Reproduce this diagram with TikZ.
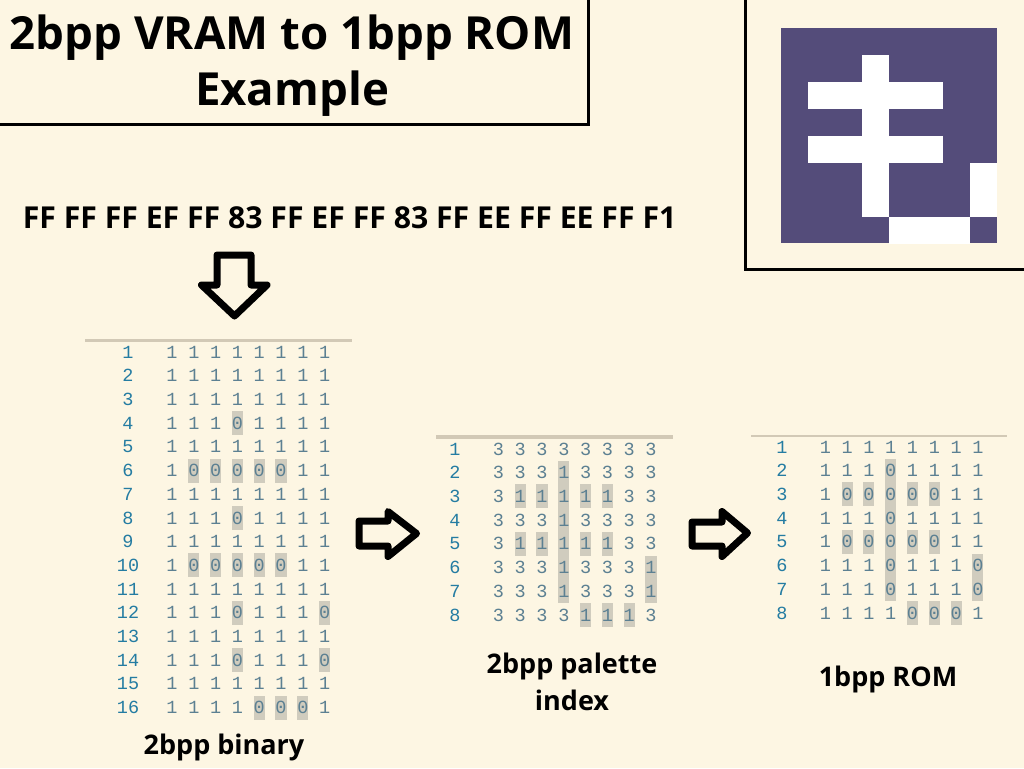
\documentclass[tikz,border=0pt]{standalone}
\usepackage{fontspec}
\setmainfont{Open Sans}
\newfontfamily\bitfont{Liberation Mono}
\definecolor{cpaper}{RGB}{253,246,227}
\definecolor{cplum}{RGB}{84,76,122}
\definecolor{crule}{RGB}{210,201,182}
\definecolor{cmark}{RGB}{208,204,190}
\definecolor{cdigit}{RGB}{92,128,146}
\definecolor{crownum}{RGB}{36,124,162}
\tikzset{
  romsheet/.style={x=1pt,y=-1pt},
  frameline/.style={draw=black,line width=3pt},
  headline/.style={font=\fontsize{45.6}{48}\selectfont\bfseries,inner sep=0pt},
  hexline/.style={font=\fontsize{30.2}{32}\selectfont\bfseries,inner sep=0pt},
  captionline/.style={font=\fontsize{27}{28}\selectfont\bfseries,inner sep=0pt},
  rownum/.style={text=crownum,font=\fontsize{18.5}{18}\selectfont\bitfont,inner sep=0pt},
  bitcell/.style={text=cdigit,font=\fontsize{18.5}{18}\selectfont\bitfont,inner sep=0pt,minimum width=11pt,minimum height=24pt},
  bitcellon/.style={bitcell,fill=cmark},
  blockarrow/.style={draw=black,line width=7pt,line join=round}
}
% name, x of row numbers, x of first digit, y of first row, marked digit, rows
\newcommand{\bitgrid}[6]{
  \foreach \row [count=\y] in {#6} {
    \node[rownum] (#1-num-\y) at (#2,{#4+(\y-1)*23.7}) {\y};
    \foreach \c [count=\x] in \row {
      \ifnum\c=#5 \def\cellstyle{bitcellon}\else\def\cellstyle{bitcell}\fi
      \node[\cellstyle] (#1-\y-\x) at ({#3+(\x-1)*21.8},{#4+(\y-1)*23.7}) {\c};
    }
  }
}
\begin{document}
\begin{tikzpicture}[romsheet]
    \fill[cpaper] (0,0) rectangle (1024,768);
    \useasboundingbox (0,0) rectangle (1024,768);
    % title and icon frames
    \draw[frameline] (0,124) -- (588,124) -- (588,0);
    \draw[frameline] (745,0) -- (745,269) -- (1024,269);
    \node[headline] (title1) at (292,38) {2bpp VRAM to 1bpp ROM};
    \node[headline] (title2) at (292,94) {Example};
    % icon
    \begin{scope}
      \clip (781,28) rectangle (997,243);
      \fill[cplum] (781,28) rectangle (997,243);
      \foreach \row [count=\y] in {
        {3,3,3,3,3,3,3,3},{3,3,3,1,3,3,3,3},{3,1,1,1,1,1,3,3},{3,3,3,1,3,3,3,3},
        {3,1,1,1,1,1,3,3},{3,3,3,1,3,3,3,1},{3,3,3,1,3,3,3,1},{3,3,3,3,1,1,1,3}} {
        \foreach \c [count=\x] in \row {
          \ifnum\c=1 \fill[white] ({781+(\x-1)*27},{28+(\y-1)*27}) rectangle ++(27,27); \fi
        }
      }
    \end{scope}
    \node[hexline] (hexbytes) at (349.5,218) {FF FF FF EF FF 83 FF EF FF 83 FF EE FF EE FF F1};
    % arrows
    \draw[blockarrow] (217,255) -- (251,255) -- (251,285) -- (267,285) -- (234.5,316) -- (201.5,285) -- (217,285) -- cycle;
    \draw[blockarrow] (359,521) -- (388,521) -- (388,511.5) -- (416.5,533.5) -- (388,556.5) -- (388,546) -- (359,546) -- cycle;
    \draw[blockarrow] (692,522) -- (722,522) -- (722,511.5) -- (747.5,533) -- (722,556.5) -- (722,546) -- (692,546) -- cycle;
    % tables
    \draw[crule,line width=3pt] (85,340) -- (352,340);
    \draw[crule,line width=4pt] (436,436.5) -- (673,436.5);
    \draw[crule,line width=2pt] (751,436) -- (1007,436);
    \bitgrid{bin}{128}{172}{352}{0}{
      {1,1,1,1,1,1,1,1},{1,1,1,1,1,1,1,1},{1,1,1,1,1,1,1,1},{1,1,1,0,1,1,1,1},
      {1,1,1,1,1,1,1,1},{1,0,0,0,0,0,1,1},{1,1,1,1,1,1,1,1},{1,1,1,0,1,1,1,1},
      {1,1,1,1,1,1,1,1},{1,0,0,0,0,0,1,1},{1,1,1,1,1,1,1,1},{1,1,1,0,1,1,1,0},
      {1,1,1,1,1,1,1,1},{1,1,1,0,1,1,1,0},{1,1,1,1,1,1,1,1},{1,1,1,1,0,0,0,1}}
    \bitgrid{pal}{455}{498.4}{449}{1}{
      {3,3,3,3,3,3,3,3},{3,3,3,1,3,3,3,3},{3,1,1,1,1,1,3,3},{3,3,3,1,3,3,3,3},
      {3,1,1,1,1,1,3,3},{3,3,3,1,3,3,3,1},{3,3,3,1,3,3,3,1},{3,3,3,3,1,1,1,3}}
    \bitgrid{rom}{782}{825.3}{447}{0}{
      {1,1,1,1,1,1,1,1},{1,1,1,0,1,1,1,1},{1,0,0,0,0,0,1,1},{1,1,1,0,1,1,1,1},
      {1,0,0,0,0,0,1,1},{1,1,1,0,1,1,1,0},{1,1,1,0,1,1,1,0},{1,1,1,1,0,0,0,1}}
    % captions
    \node[captionline] (capbin) at (224,747) {2bpp binary};
    \node[captionline] (cappal1) at (572,666) {2bpp palette};
    \node[captionline] (cappal2) at (572,700) {index};
    \node[captionline] (caprom) at (888,679) {1bpp ROM};
\end{tikzpicture}
\end{document}
